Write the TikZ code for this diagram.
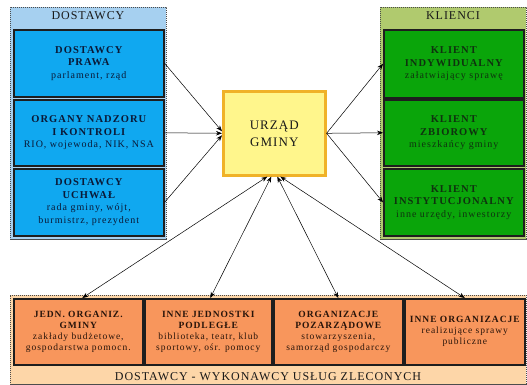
\documentclass[tikz,border=0pt]{standalone}
\usepackage{fontspec}
\setmainfont{Liberation Serif}
\newfontfamily\tfont[LetterSpace=10]{Liberation Serif}
\newfontfamily\hfont[LetterSpace=8]{Liberation Serif}
\usetikzlibrary{arrows.meta}
\definecolor{blueout}{RGB}{166,208,240}
\definecolor{bluein}{RGB}{16,168,240}
\definecolor{greenout}{RGB}{176,202,110}
\definecolor{greenin}{RGB}{10,165,10}
\definecolor{peachout}{RGB}{253,214,168}
\definecolor{orangein}{RGB}{248,150,92}
\definecolor{yel}{RGB}{255,246,140}
\definecolor{yelborder}{RGB}{240,178,40}
\definecolor{bluetxt}{RGB}{10,25,55}
\definecolor{greentxt}{RGB}{15,50,15}
\definecolor{browntxt}{RGB}{40,20,10}
\definecolor{boxline}{RGB}{30,30,30}
\newcommand{\ttl}{\tfont\bfseries\fontsize{10.5}{12.5}\selectfont}
\newcommand{\sbt}{\tfont\mdseries\fontsize{10}{12.5}\selectfont}
\newcommand{\bttl}{\tfont\bfseries\fontsize{9.5}{11}\selectfont}
\newcommand{\bsbt}{\tfont\mdseries\fontsize{9.5}{10.5}\selectfont}
\begin{document}
\begin{tikzpicture}[x=1pt,y=-1pt,
  grp/.style={draw=gray!60!black, line width=.6pt, dash pattern=on 1.2pt off .8pt, inner sep=0pt, anchor=north west},
  inbox/.style={draw=boxline, line width=1.6pt, inner sep=0pt, anchor=north west, align=center, font=\ttl},
  botbox/.style={inbox, fill=orangein, text=browntxt, font=\bttl, minimum height=66pt},
  hdr/.style={font=\hfont\fontsize{12}{14}\selectfont, inner sep=0pt},
  arr/.style={line width=.5pt, -{Stealth[length=6pt,width=4.5pt]}},
  darr/.style={line width=.5pt, {Stealth[length=6pt,width=4.5pt]}-{Stealth[length=6pt,width=4.5pt]}}
]
\useasboundingbox (0,0) rectangle (527,385);
% groups
\node[grp, fill=blueout, minimum width=156pt, minimum height=232pt] (GL) at (10,7) {};
\node[grp, fill=greenout, minimum width=146pt, minimum height=232pt] (GR) at (380,7) {};
\node[grp, fill=peachout, minimum width=516pt, minimum height=89pt] (GB) at (10,295) {};
\node[hdr, text=black!90] (HL) at (88,16) {DOSTAWCY};
\node[hdr, text=black!90] (HR) at (453,16) {KLIENCI};
\node[hdr, text=black!90] (HB) at (268,377) {DOSTAWCY - WYKONAWCY USŁUG ZLECONYCH};
% left boxes
\node[inbox, fill=bluein, text=bluetxt, minimum width=150pt, minimum height=67pt] (LB1) at (13,29)
  {DOSTAWCY\\PRAWA\\\sbt parlament, rząd};
\node[inbox, fill=bluein, text=bluetxt, minimum width=150pt, minimum height=66pt] (LB2) at (13,99)
  {ORGANY NADZORU\\I KONTROLI\\\sbt RIO, wojewoda, NIK, NSA};
\node[inbox, fill=bluein, text=bluetxt, minimum width=150pt, minimum height=67pt] (LB3) at (13,168)
  {DOSTAWCY\\UCHWAŁ\\\sbt rada gminy, wójt,\\\sbt burmistrz, prezydent};
% right boxes
\node[inbox, fill=greenin, text=greentxt, minimum width=140pt, minimum height=68pt] (RB1) at (383,29)
  {KLIENT\\INDYWIDUALNY\\\sbt załatwiający sprawę};
\node[inbox, fill=greenin, text=greentxt, minimum width=140pt, minimum height=66pt] (RB2) at (383,99)
  {KLIENT\\ZBIOROWY\\\sbt mieszkańcy gminy};
\node[inbox, fill=greenin, text=greentxt, minimum width=140pt, minimum height=67pt] (RB3) at (383,168)
  {KLIENT\\INSTYTUCJONALNY\\\sbt inne urzędy, inwestorzy};
% centre
\node[draw=yelborder, line width=2.6pt, fill=yel, minimum width=102pt, minimum height=84pt, anchor=north west, align=center, inner sep=0pt,
  font=\hfont\fontsize{13}{17}\selectfont, text=black!90] (C) at (222,90) {URZĄD\\GMINY};
% bottom boxes
\node[botbox, minimum width=129pt] (B1) at (13,298)
  {JEDN. ORGANIZ.\\GMINY\\\bsbt zakłady budżetowe,\\\bsbt gospodarstwa pomocn.};
\node[botbox, minimum width=127pt] (B2) at (144,298)
  {INNE JEDNOSTKI\\PODLEGŁE\\\bsbt biblioteka, teatr, klub\\\bsbt sportowy, ośr. pomocy};
\node[botbox, minimum width=129pt] (B3) at (273,298)
  {ORGANIZACJE\\POZARZĄDOWE\\\bsbt stowarzyszenia,\\\bsbt samorząd gospodarczy};
\node[botbox, minimum width=120pt] (B4) at (404,298)
  {INNE ORGANIZACJE\\\bsbt realizujące sprawy\\\bsbt publiczne};
% connectors
\draw[arr] (LB1.east) -- ([yshift=2pt]C.west);
\draw[arr] (LB2.east) -- (C.west);
\draw[arr] (LB3.east) -- ([yshift=-2pt]C.west);
\draw[arr] (C.east) -- (RB1.west);
\draw[arr] (C.east) -- (RB2.west);
\draw[arr] (C.east) -- (RB3.west);
\draw[darr] ([xshift=-7pt]C.south) -- ([xshift=4pt]B1.north);
\draw[darr] ([xshift=-3pt]C.south) -- ([xshift=2pt]B2.north);
\draw[darr] ([xshift=3pt]C.south) -- (B3.north);
\draw[darr] ([xshift=6pt]C.south) -- (B4.north);
\end{tikzpicture}
\end{document}
